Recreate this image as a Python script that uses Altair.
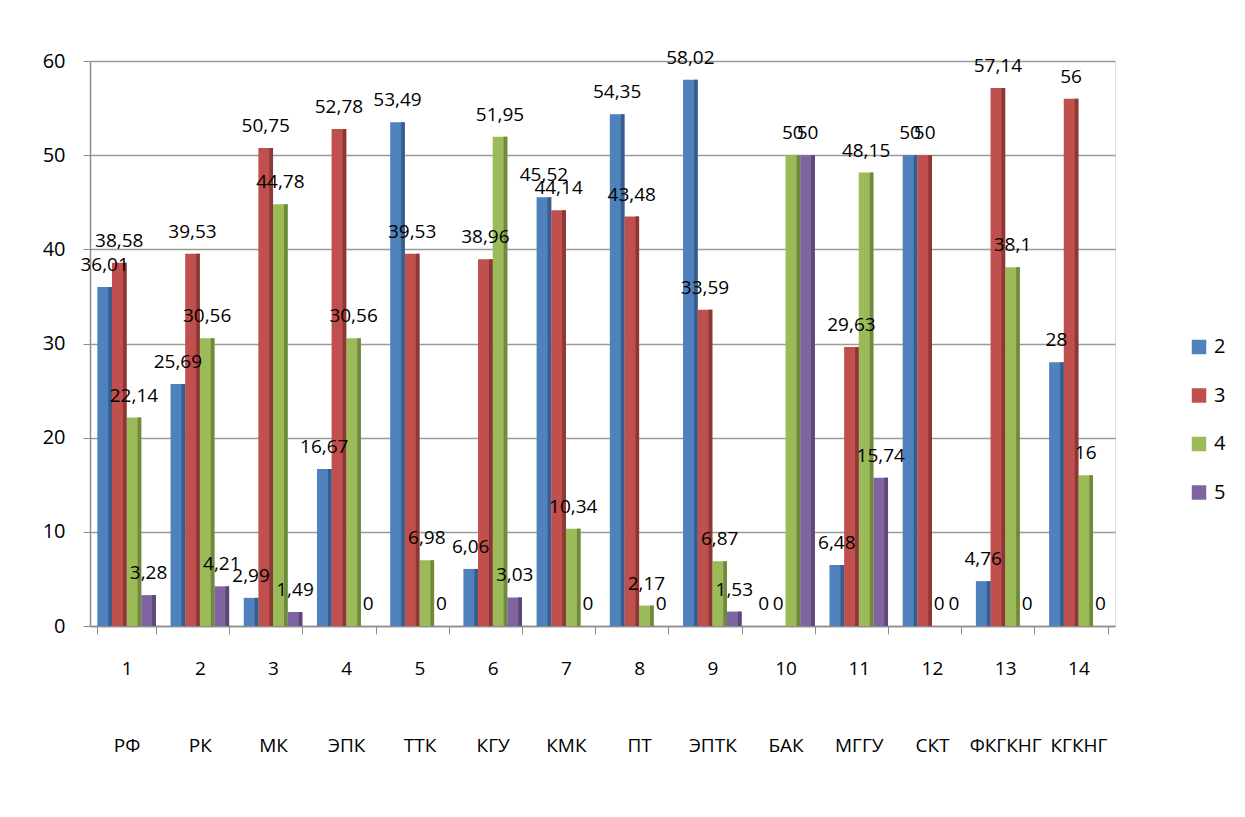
import altair as alt
import pandas as pd

nums = [str(i) for i in range(1, 15)]
names = ["РФ", "РК", "МК", "ЭПК", "ТТК", "КГУ", "КМК", "ПТ", "ЭПТК", "БАК", "МГГУ", "СКТ", "ФКГКНГ", "КГКНГ"]
series = ["2", "3", "4", "5"]
s2 = [36.01, 25.69, 2.99, 16.67, 53.49, 6.06, 45.52, 54.35, 58.02, 0, 6.48, 50, 4.76, 28]
s3 = [38.58, 39.53, 50.75, 52.78, 39.53, 38.96, 44.14, 43.48, 33.59, 0, 29.63, 50, 57.14, 56]
s4 = [22.14, 30.56, 44.78, 30.56, 6.98, 51.95, 10.34, 2.17, 6.87, 50, 48.15, 0, 38.1, 16]
s5 = [3.28, 4.21, 1.49, 0, 0, 3.03, 0, 0, 1.53, 50, 15.74, 0, 0, 0]

colors = ["#4F81BD", "#C0504D", "#9BBB59", "#8064A2"]
dark = ["#385D8A", "#8C3836", "#71893F", "#5C4776"]

keys = [f"{n}|{m}" for n, m in zip(nums, names)]
# side faces occupy the last quarter of each series' sub-band
side_domain = [f"{s}_{q}" for s in series for q in range(4)]
rows = []
for s, vals in zip(series, [s2, s3, s4, s5]):
    for k, v in zip(keys, vals):
        rows.append({"key": k, "series": s, "sdark": "d" + s, "sside": f"{s}_3",
                     "value": v, "label": ("%g" % v).replace(".", ",")})
df = pd.DataFrame(rows)

FONT = "Open Sans"

x = alt.X("key:N", sort=keys, title=None,
          scale=alt.Scale(paddingInner=0.2, paddingOuter=0.1),
          axis=alt.Axis(labelExpr="split(datum.label, '|')", labelAngle=0,
                        labelFontSize=19, labelLineHeight=77, labelPadding=25,
                        labelColor="#000000", tickBand="extent", tickSize=8,
                        tickColor="#8c8c8c", domainColor="#8c8c8c", domainWidth=1.5,
                        labelFont=FONT))
y = alt.Y("value:Q", title=None,
          scale=alt.Scale(domain=[0, 60], nice=False),
          axis=alt.Axis(values=[0, 10, 20, 30, 40, 50, 60], labelFontSize=20,
                        labelColor="#000000", labelPadding=18, tickSize=7,
                        tickColor="#8c8c8c", domainColor="#8c8c8c", domainWidth=1.5,
                        gridColor="#9a9a9a", gridWidth=1.5, labelFont=FONT))
xo = alt.XOffset("series:N", sort=series,
                 scale=alt.Scale(type="band", domain=series, paddingInner=0, paddingOuter=0))

front = alt.Chart(df).mark_bar().encode(
    x=x, y=y, xOffset=xo,
    color=alt.Color("series:N", sort=series,
                    scale=alt.Scale(domain=series, range=colors),
                    legend=alt.Legend(title=None, orient="none", legendX=1099, legendY=276,
                                      symbolType="square", symbolSize=210,
                                      symbolStrokeWidth=0, labelFontSize=20,
                                      labelFont=FONT, rowPadding=28.5, labelOffset=5,
                                      labelColor="#000000")),
)
side = alt.Chart(df).mark_bar().encode(
    x=x, y=y,
    xOffset=alt.XOffset("sside:N", scale=alt.Scale(type="band", domain=side_domain,
                                                     paddingInner=0, paddingOuter=0)),
    color=alt.Color("sdark:N", scale=alt.Scale(domain=["d" + s for s in series], range=dark),
                    legend=None),
)
text = alt.Chart(df).mark_text(baseline="bottom", dy=-12, fontSize=19, font=FONT,
                               color="#000000").encode(
    x=x, y=y, xOffset=xo, text="label:N",
)

chart = alt.layer(front, side, text).resolve_scale(
    color="independent", xOffset="independent"
).properties(
    width=1025, height=565,
    padding={"left": 82, "top": 53, "right": 122, "bottom": 183},
    autosize=alt.AutoSizeParams(type="none"),
).configure_view(stroke=None).configure(background="#ffffff")

chart.save("out.html", embed_options={"renderer": "svg", "actions": False})
